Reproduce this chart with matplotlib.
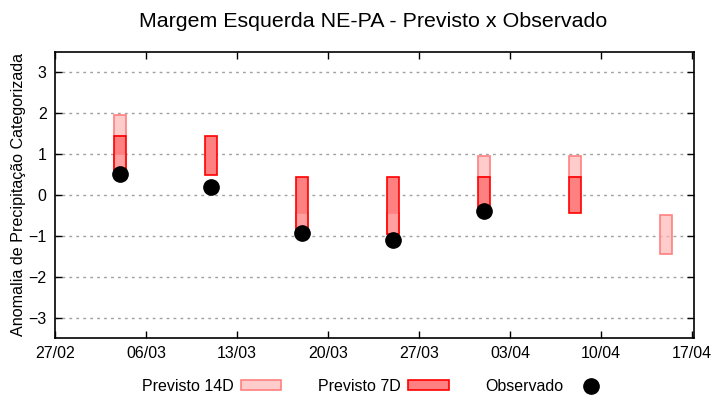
import matplotlib
matplotlib.use('Agg')
import matplotlib.pyplot as plt
import matplotlib.dates as mdates
from matplotlib.patches import Patch
from matplotlib.lines import Line2D
import pandas as pd

plt.rcParams['font.family'] = ['Liberation Sans', 'DejaVu Sans']

''' dados lidos do grafico '''
# previsao 7 dias (intervalos por semana)
d7_dates = ['2023-03-04', '2023-03-11', '2023-03-18', '2023-03-25', '2023-04-01', '2023-04-08']
d7_lo = [0.5, 0.5, -0.95, -0.95, -0.4, -0.45]
d7_hi = [1.45, 1.45, 0.45, 0.45, 0.45, 0.45]

# previsao 14 dias
d14_dates = ['2023-03-04', '2023-03-04', '2023-03-18', '2023-03-25',
             '2023-04-01', '2023-04-08', '2023-04-15']
d14_lo = [1.45, 0.5, -0.95, -0.95, 0.45, 0.45, -1.45]
d14_hi = [1.95, 1.0, -0.45, -0.45, 0.95, 0.95, -0.5]

# observado
obs_dates = ['2023-03-04', '2023-03-11', '2023-03-18', '2023-03-25', '2023-04-01']
obs_vals = [0.52, 0.2, -0.93, -1.1, -0.38]

xticks = pd.date_range('2023-02-27', '2023-04-17', freq='7D')

c7_face = '#ff8080'
c7_edge = '#ff0000'
c14_face = '#ffb1b1'
c14_edge = '#ff8080'
bw = 0.92

fig = plt.figure(figsize=(7.2, 4.0), dpi=100)
ax = fig.add_axes([0.0764, 0.155, 0.8875, 0.715])

x7 = mdates.date2num(pd.to_datetime(d7_dates))
h7 = [h - l for l, h in zip(d7_lo, d7_hi)]
x14 = mdates.date2num(pd.to_datetime(d14_dates))
h14 = [h - l for l, h in zip(d14_lo, d14_hi)]

# preenchimentos: 7D primeiro, 14D por cima com transparencia
ax.bar(x7, h7, bottom=d7_lo, width=bw, color=c7_face, linewidth=0, zorder=3)
ax.bar(x14, h14, bottom=d14_lo, width=bw, color=c14_face, alpha=0.65,
       linewidth=0, zorder=4)
# contornos
ax.bar(x14, h14, bottom=d14_lo, width=bw, facecolor='none', edgecolor=c14_edge,
       linewidth=1.2, zorder=5)
ax.bar(x7, h7, bottom=d7_lo, width=bw, facecolor='none', edgecolor=c7_edge,
       linewidth=1.2, zorder=6)

xo = mdates.date2num(pd.to_datetime(obs_dates))
ax.plot(xo, obs_vals, 'o', color='black', markersize=11, zorder=7)

ax.set_ylim(-3.5, 3.5)
ax.set_yticks([-3, -2, -1, 0, 1, 2, 3])
ax.set_xlim(mdates.date2num(xticks[0]), mdates.date2num(xticks[-1]) + 0.15)
ax.set_xticks(mdates.date2num(xticks))
ax.set_xticklabels([d.strftime('%d/%m') for d in xticks])
ax.yaxis.grid(True, linestyle=(0, (2, 3)), color='#a0a0a0', linewidth=1)
ax.set_axisbelow(True)
ax.tick_params(direction='in', length=5, width=1, labelsize=11.5, top=True, right=True,
               labeltop=False, labelright=False, pad=6)
for s in ax.spines.values():
    s.set_linewidth(1.2)

ax.set_ylabel('Anomalia de Precipitação Categorizada', fontsize=11.6, labelpad=2)
fig.suptitle('Margem Esquerda NE-PA - Previsto x Observado', fontsize=15.4,
             x=0.518, y=0.97)

handles = [Patch(facecolor='#ffcccc', edgecolor=c14_edge, linewidth=1.2),
           Patch(facecolor=c7_face, edgecolor=c7_edge, linewidth=1.2),
           Line2D([], [], marker='o', color='black', linestyle='none', markersize=11)]
fig.legend(handles, ['Previsto 14D', 'Previsto 7D', 'Observado'],
           loc='lower center', bbox_to_anchor=(0.523, -0.02), ncol=3, frameon=False,
           markerfirst=False, fontsize=11.5, handlelength=2.55, handleheight=0.5,
           columnspacing=2.3, handletextpad=0.45)

fig.savefig('out.png', dpi=100)
